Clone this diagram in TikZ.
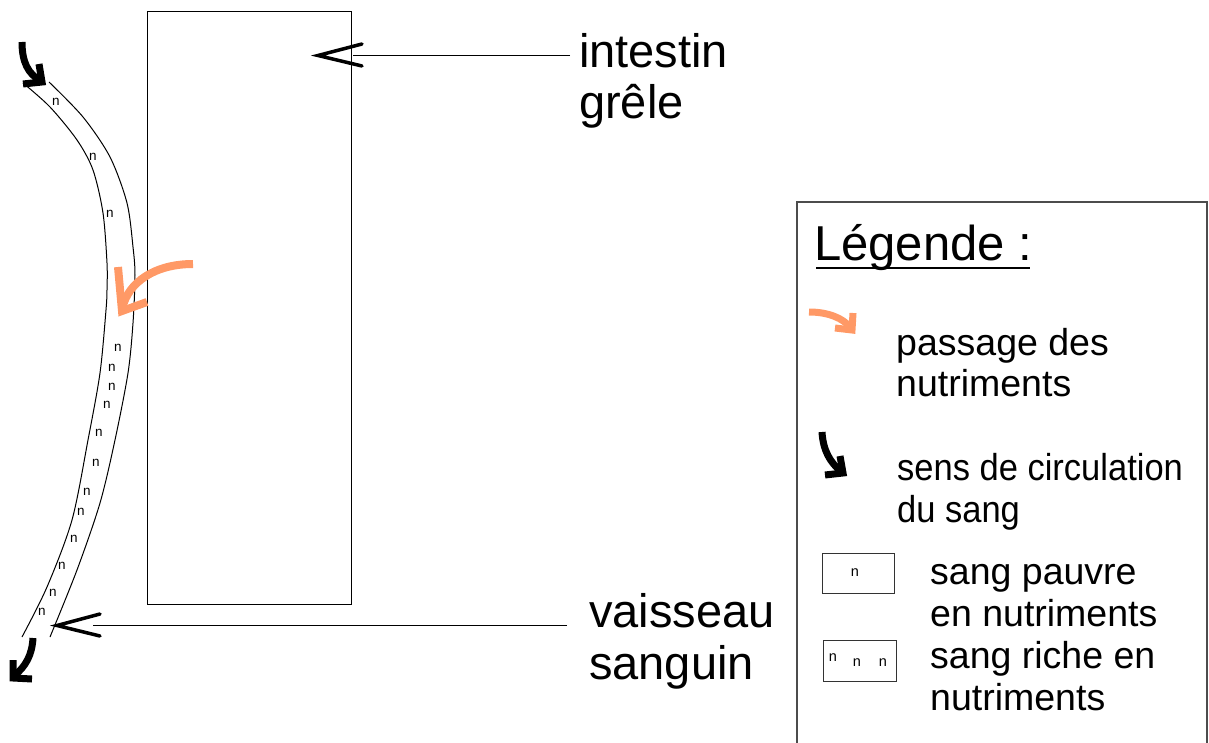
\documentclass[tikz,border=0pt]{standalone}
\usepackage{fontspec}
\usepackage{graphicx}
\setmainfont{Liberation Sans}
\usetikzlibrary{calc}
\definecolor{nutri}{HTML}{FF9966}
\tikzset{
  lbl/.style={inner sep=0pt, anchor=base west, font=\fontsize{47}{52}\selectfont},
  leglbl/.style={inner sep=0pt, anchor=base west, font=\fontsize{37.5}{42}\selectfont},
  nn/.style={inner sep=0pt, font=\fontsize{13.5}{14}\selectfont},
  nnleg/.style={inner sep=0pt, font=\fontsize{14.5}{15}\selectfont},
  fineline/.style={line width=1},
  chev/.style={line width=3.5, line cap=round, line join=miter},
  flow/.style={line width=7, line join=miter},
  samplebox/.style={draw=black!80, line width=1},
}
\begin{document}
\begin{tikzpicture}[x=1pt, y=-1pt]
\useasboundingbox (0,0) rectangle (1209,743);

% small intestine
\draw[fineline] (147,12) rectangle (351,604);

% blood vessel
\draw[fineline] plot[smooth] coordinates {(23,83) (50,107) (77,140) (93,170) (103,213) (107,263) (107,290) (106,310) (100,373) (88,440) (72,520) (47,587) (22,637)};
\draw[fineline] plot[smooth] coordinates {(49,82) (83,117) (110,157) (127,203) (133,247) (135,275) (133,323) (128,373) (115,440) (100,503) (77,570) (50,637)};

% nutrients in vessel
\foreach \p [count=\i] in {(56,102),(93,157),(110,214),(118,348),(112,368),(112,387),(107,405),(99,433),(96,463),(87,492),(81,512),(74,539),(62,566),(53,593),(42,612)}
  \node[nn] (n\i) at \p {n};

% blood flow arrows
\draw[flow] (22,42) .. controls (22,62) and (28,74) .. (41,81);
\draw[flow] (39,64) -- (42,82) -- (23,84);
\draw[flow] (33,638) .. controls (32,655) and (26,666) .. (14,676);
\draw[flow] (13,660) -- (13,678) -- (32,679);

% nutrient passage arrow
\draw[flow, nutri, line width=8] (193,264) .. controls (155,264) and (128,282) .. (122,309);
\draw[flow, nutri, line width=8] (118,267) -- (122,311) -- (147,302);

% labels
\node[lbl] (int1) at (579,68) {intestin};
\node[lbl] (int2) at (579,119) {grêle};
\node[lbl] (vai1) at (589,627) {vaisseau};
\node[lbl] (vai2) at (589,679) {sanguin};

\coordinate (intL) at (570,55.5);
\coordinate (intT) at (353,55.5);
\draw[fineline] (intL) -- (intT);
\draw[chev] (362,44) -- (318,55.5) -- (362,66);

\coordinate (vaiL) at (567,625.5);
\coordinate (vaiT) at (93,625.5);
\draw[fineline] (vaiL) -- (vaiT);
\draw[chev] (100,614) -- (57,625.5) -- (100,636);

% legend
\draw[line width=1.5, black!70] (797,743) -- (797,202) -- (1207,202) -- (1207,743);
\node[inner sep=0pt, anchor=base west, font=\fontsize{49}{54}\selectfont] (leg) at (814,261) {Légende :};
\draw[line width=2.5] (816,268) -- (1030,268);

\draw[flow, nutri] (809,312) .. controls (828,312) and (843,318) .. (851,328);
\draw[flow, nutri] (853,313) -- (852,330) -- (835,328);
\node[leglbl] (p1) at (896,355) {passage des};
\node[leglbl] (p2) at (896,396) {nutriments};

\draw[flow] (822,432) .. controls (823,450) and (830,463) .. (842,472);
\draw[flow] (840,456) -- (843,473) -- (825,475);
\node[leglbl] (s1) at (897,480) {\scalebox{0.92}[1]{sens de circulation}};
\node[leglbl] (s2) at (897,522) {\scalebox{0.92}[1]{du sang}};

\draw[samplebox] (822,553) rectangle (894,593);
\node[nnleg] (ln1) at (855,573) {n};
\node[leglbl] (sp1) at (930,584) {sang pauvre};
\node[leglbl] (sp2) at (930,626) {en nutriments};

\draw[samplebox] (823,640) rectangle (896,681);
\node[nnleg] (ln2) at (833,658) {n};
\node[nnleg] (ln3) at (857,663) {n};
\node[nnleg] (ln4) at (883,663) {n};
\node[leglbl] (sr1) at (930,668) {sang riche en};
\node[leglbl] (sr2) at (930,710) {nutriments};
\end{tikzpicture}
\end{document}
